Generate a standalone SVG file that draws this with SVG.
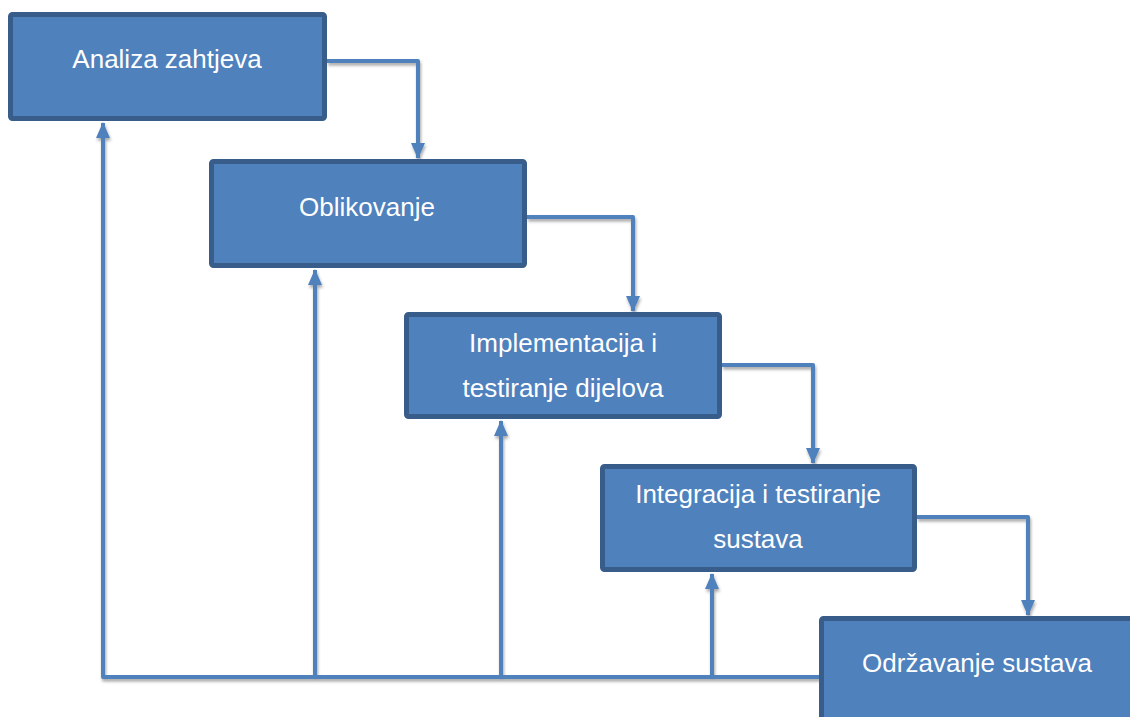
<svg xmlns="http://www.w3.org/2000/svg" width="1130" height="717" viewBox="0 0 1130 717">
<style>
.box{fill:#4f81bd;stroke:#385d8a;stroke-width:5}
.lbl{fill:#ffffff;font-family:"Liberation Sans",Arial,sans-serif;font-size:26px;text-anchor:middle}
.con{fill:none;stroke:#4f81bd;stroke-width:4;stroke-linejoin:round}
</style>
<defs>
<marker id="ah" viewBox="0 0 16 14" refX="15" refY="7" markerWidth="16" markerHeight="14" markerUnits="userSpaceOnUse" orient="auto">
<path d="M0,0 L16,7 L0,14 Z" fill="#4f81bd"/>
</marker>
<filter id="sh" x="-10%" y="-10%" width="130%" height="130%">
<feDropShadow dx="1" dy="2.5" stdDeviation="1.5" flood-color="#000" flood-opacity="0.35"/>
</filter>
</defs>
<rect width="1130" height="717" fill="#ffffff"/>
<g id="connectors" filter="url(#sh)">
<path class="con" d="M327,61 H418 V158" marker-end="url(#ah)"/>
<path class="con" d="M527,217 H633 V311" marker-end="url(#ah)"/>
<path class="con" d="M722,365 H813 V463" marker-end="url(#ah)"/>
<path class="con" d="M917,517 H1028 V615" marker-end="url(#ah)"/>
<path class="con" d="M820,677 H103 V123" marker-end="url(#ah)"/>
<path class="con" d="M315,677 V270" marker-end="url(#ah)"/>
<path class="con" d="M501,677 V421" marker-end="url(#ah)"/>
<path class="con" d="M712,677 V574" marker-end="url(#ah)"/>
</g>
<g id="n1">
<rect class="box" x="10.5" y="14.5" width="314" height="104" rx="2"/>
<text class="lbl" x="167" y="68">Analiza zahtjeva</text>
</g>
<g id="n2">
<rect class="box" x="211.5" y="161.5" width="313" height="104" rx="2"/>
<text class="lbl" x="367" y="216">Oblikovanje</text>
</g>
<g id="n3">
<rect class="box" x="406.5" y="314.5" width="313" height="102" rx="2"/>
<text class="lbl" x="563" y="352">Implementacija i</text>
<text class="lbl" x="563" y="397">testiranje dijelova</text>
</g>
<g id="n4">
<rect class="box" x="602.5" y="466.5" width="312" height="103" rx="2"/>
<text class="lbl" x="758" y="503">Integracija i testiranje</text>
<text class="lbl" x="758" y="548">sustava</text>
</g>
<g id="n5">
<rect class="box" x="821.5" y="618.5" width="340" height="130" rx="2"/>
<text class="lbl" x="977" y="672">Održavanje sustava</text>
</g>
</svg>
